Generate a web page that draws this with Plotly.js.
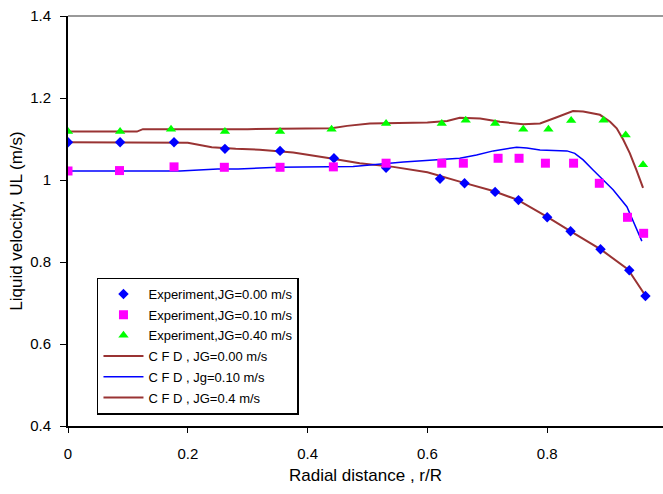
<!DOCTYPE html>
<html>
<head>
<meta charset="utf-8">
<script src="https://cdn.plot.ly/plotly-3.0.1.min.js"></script>
<style>html,body{margin:0;padding:0;background:#fff;}#chart{width:663px;height:494px;}</style>
</head>
<body>
<div id="chart"></div>
<script>
// Experimental data
const expX00 = [0, 0.087, 0.177, 0.262, 0.354, 0.444, 0.531, 0.621, 0.662, 0.713, 0.752, 0.800, 0.839, 0.889, 0.937, 0.964];
const expY00 = [1.092, 1.092, 1.092, 1.076, 1.071, 1.053, 1.030, 1.003, 0.992, 0.971, 0.951, 0.909, 0.875, 0.831, 0.780, 0.717];

const expX10 = [0, 0.086, 0.177, 0.261, 0.354, 0.443, 0.531, 0.624, 0.660, 0.718, 0.753, 0.797, 0.844, 0.887, 0.934, 0.961];
const expY10 = [1.022, 1.023, 1.032, 1.031, 1.031, 1.032, 1.041, 1.041, 1.041, 1.053, 1.053, 1.041, 1.041, 0.992, 0.909, 0.870];

const expX40 = [0, 0.087, 0.172, 0.262, 0.354, 0.440, 0.531, 0.624, 0.664, 0.713, 0.760, 0.802, 0.840, 0.894, 0.931, 0.960];
const expY40 = [1.118, 1.118, 1.124, 1.118, 1.118, 1.124, 1.138, 1.138, 1.146, 1.138, 1.124, 1.124, 1.145, 1.146, 1.110, 1.037];

// CFD curves
const cfdX00 = [0, 0.1, 0.2, 0.24, 0.28, 0.32, 0.376, 0.432, 0.487, 0.543, 0.6, 0.654, 0.71, 0.75, 0.8, 0.84, 0.89, 0.935, 0.963];
const cfdY00 = [1.092, 1.092, 1.091, 1.080, 1.076, 1.074, 1.067, 1.054, 1.041, 1.032, 1.019, 0.996, 0.973, 0.952, 0.910, 0.874, 0.830, 0.782, 0.720];

const cfdX10 = [0, 0.1, 0.187, 0.25, 0.284, 0.35, 0.476, 0.56, 0.634, 0.654, 0.682, 0.71, 0.749, 0.766, 0.788, 0.833, 0.846, 0.86, 0.877, 0.894, 0.91, 0.933, 0.958];
const cfdY10 = [1.022, 1.022, 1.022, 1.027, 1.027, 1.031, 1.033, 1.044, 1.050, 1.053, 1.061, 1.071, 1.080, 1.078, 1.073, 1.071, 1.065, 1.049, 1.024, 1.000, 0.976, 0.935, 0.851];

const cfdX40 = [0, 0.115, 0.125, 0.3, 0.44, 0.466, 0.504, 0.6, 0.633, 0.654, 0.688, 0.721, 0.76, 0.788, 0.816, 0.843, 0.86, 0.888, 0.905, 0.916, 0.927, 0.938, 0.949, 0.96];
const cfdY40 = [1.118, 1.118, 1.124, 1.124, 1.126, 1.132, 1.138, 1.140, 1.144, 1.152, 1.150, 1.142, 1.136, 1.138, 1.153, 1.168, 1.167, 1.159, 1.142, 1.126, 1.098, 1.065, 1.024, 0.981];

const names = [
  "Experiment,JG=0.00 m/s",
  "Experiment,JG=0.10 m/s",
  "Experiment,JG=0.40 m/s",
  "C F D , JG=0.00 m/s",
  "C F D , Jg=0.10 m/s",
  "C F D , JG=0.4 m/s"
];
const xTicks = [0, 0.2, 0.4, 0.6, 0.8];
const xTickText = ["0", "0.2", "0.4", "0.6", "0.8"];
const yTicks = [0.4, 0.6, 0.8, 1, 1.2, 1.4];
const yTickText = ["0.4", "0.6", "0.8", "1", "1.2", "1.4"];

const RED = "#993333";
const FONT = "Liberation Sans, Arial, sans-serif";

const traces = [
  {x: cfdX00, y: cfdY00, mode: "lines", name: names[3], legendgroup: "g4", legendrank: 4,
   line: {color: RED, width: 2}},
  {x: cfdX10, y: cfdY10, mode: "lines", name: names[4], legendgroup: "g5", legendrank: 5,
   line: {color: "#0000ff", width: 1.5}},
  {x: cfdX40, y: cfdY40, mode: "lines", name: names[5], legendgroup: "g6", legendrank: 6,
   line: {color: RED, width: 2}},
  {x: expX00, y: expY00, mode: "markers", name: names[0], legendgroup: "g1", legendrank: 1,
   marker: {symbol: "diamond", size: 8, color: "#0000ff"}},
  {x: expX10, y: expY10, mode: "markers", name: names[1], legendgroup: "g2", legendrank: 2,
   marker: {symbol: "square", size: 9, color: "#ff00ff"}},
  {x: expX40, y: expY40, mode: "markers", name: names[2], legendgroup: "g3", legendrank: 3,
   marker: {symbol: "triangle-up", size: 9, color: "#00ff00"}}
];

const layout = {
  width: 663, height: 494,
  margin: {l: 68, r: 0, t: 16, b: 68},
  paper_bgcolor: "#ffffff", plot_bgcolor: "#ffffff",
  font: {family: FONT, color: "#000"},
  showlegend: true,
  xaxis: {
    range: [0, 0.9933], tickvals: xTicks, ticktext: xTickText,
    showgrid: false, zeroline: false, showline: true, linecolor: "#000", linewidth: 2,
    ticks: "outside", ticklen: 5, tickcolor: "#000", tickwidth: 1,
    ticklabelstandoff: 8,
    tickfont: {family: FONT, size: 15, color: "#000"},
    title: {text: "Radial distance , r/R", font: {family: FONT, size: 17, color: "#000"}, standoff: 8}
  },
  yaxis: {
    range: [0.4, 1.4], tickvals: yTicks, ticktext: yTickText,
    showgrid: false, zeroline: false, showline: true, linecolor: "#000", linewidth: 2,
    ticks: "outside", ticklen: 6, tickcolor: "#000", tickwidth: 1,
    ticklabelstandoff: 6,
    tickfont: {family: FONT, size: 15, color: "#000"},
    title: {text: "Liquid velocity, UL (m/s)", font: {family: FONT, size: 17, color: "#000"}, standoff: 3}
  },
  shapes: [
    {type: "line", xref: "paper", yref: "paper", x0: 0, x1: 1, y0: 1, y1: 1,
     line: {color: "#999999", width: 2}}
  ],
  legend: {
    x: 0.0487, y: 0.028, xanchor: "left", yanchor: "bottom",
    bordercolor: "#000", borderwidth: 1.5, bgcolor: "#ffffff",
    font: {family: FONT, size: 13, color: "#000"},
    itemwidth: 40, traceorder: "grouped", tracegroupgap: 0.8
  }
};

Plotly.newPlot("chart", traces, layout, {staticPlot: true, displayModeBar: false});
</script>
</body>
</html>
